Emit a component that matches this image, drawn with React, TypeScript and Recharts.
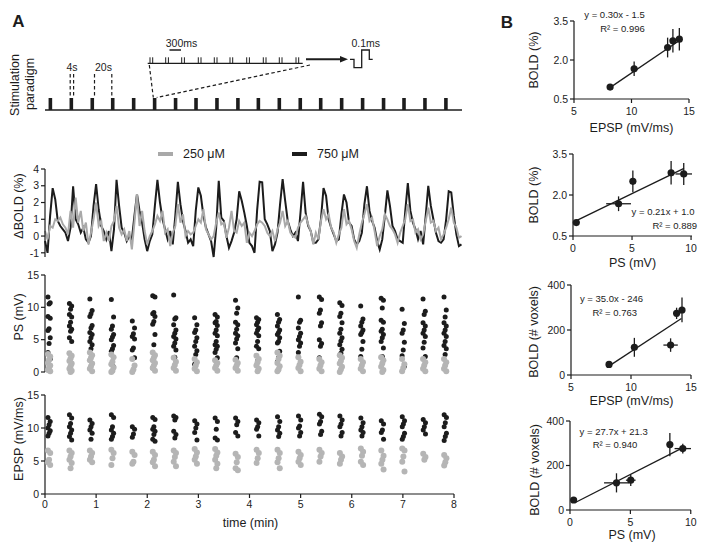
import React from "react";
import {
  ComposedChart,
  LineChart,
  Line,
  Bar,
  ScatterChart,
  Scatter,
  XAxis,
  YAxis,
  ReferenceLine,
  ErrorBar,
  Legend,
} from "recharts";

const FONT = '"Liberation Sans", Arial, Helvetica, sans-serif';
const INK = "#1c1c1c";
const GREY = "#b5b5b5";
const LINE_GREY = "#a9a9a9";

// ---- panel A: stimulation paradigm (onset of each 4 s train, min)
const stimOnsets = [
  0.08, 0.49, 0.9, 1.3, 1.71, 2.12, 2.53, 2.93, 3.34, 3.75,
  4.15, 4.56, 4.97, 5.37, 5.78, 6.19, 6.6, 7.0, 7.41, 7.82,
];
const stimDur = 4 / 60;
// pulse pairs in the zoomed 300 ms train (schematic)
const trainPairs = [150, 165.7, 181.7, 198.3, 214.3, 230, 246.7, 263.3, 279.3, 296];

// ---- panel A: BOLD time courses, one sample every 3 s
const boldStep = 0.05;
const bold750 = [
  -0.3, -1.0, 1.2,
  2.86, 2.2, 0.9, 0.6, 0.4, 0.2, -0.3, 0.5,
  2.97, 1.0, 0.7, 0.2, 0.5, -0.2, -0.4, 0.0, 1.8,
  3.1, 1.6, 0.6, 0.3, -0.2, 0.3, -0.9, 0.4,
  3.35, 1.8, 0.5, 0.2, -0.3, 0.0, -0.2, 1.2,
  2.5, 1.5, 0.8, -0.2, -0.9, -0.3, 0.1, 1.8,
  3.35, 2.0, 1.0, 0.4, -0.2, 0.3, -0.5, 1.2,
  3.24, 1.9, 0.9, 0.3, -0.4, -0.2, -0.6, 1.5,
  2.9, 2.4, 1.2, 0.5, 0.1, -0.3, -1.25, 0.5,
  3.3, 1.1, 0.9, 0.0, -0.7, -0.3, 0.2, 1.0,
  2.67, 2.1, 1.4, 0.6, -0.4, -0.6, -1.0, 1.5,
  3.24, 3.2, 1.0, 0.7, 0.3, -0.9, -0.5, 0.2, 1.9,
  3.4, 2.1, 0.9, 0.4, 0.0, 0.2, -0.3, 1.4,
  3.24, 1.4, 0.6, 0.3, -0.4, -0.4, -0.2, 1.0,
  2.86, 2.4, 1.0, 0.5, 0.1, -0.3, -0.2, 1.3,
  2.48, 2.0, 0.8, 0.6, -0.2, -0.5, -0.3, 0.2, 1.9,
  2.97, 1.5, 0.9, 0.5, -0.3, -0.8, -0.2, 1.2,
  2.72, 1.8, 0.6, 0.3, -0.2, -0.3, -0.4, 1.5,
  3.16, 1.5, 0.8, 0.4, -0.2, 0.3, -0.5, 1.2,
  3.0, 1.8, 1.0, 0.2, -0.3, -0.4, -0.2, 1.0,
  2.67, 2.6, 1.2, 0.1, -0.6, -0.5,
];
const bold250 = [
  0.3, -0.2, 0.6,
  0.5, 1.0, 0.9, 1.1, 0.7, 0.5, 0.1, 1.5,
  0.5, 2.3, 0.8, 1.5, 0.3, 0.8, -0.5, 0.2, 1.0,
  2.0, 0.6, 0.9, -0.3, 0.2, -0.3, 0.6, 0.9,
  1.8, 0.5, 0.1, 0.4, -0.3, 0.3, -0.8, 0.8,
  2.5, 0.6, 1.5, 0.3, -0.5, 0.0, 0.3, 0.7,
  1.2, 0.9, 1.5, 0.2, 0.4, -0.6, 0.2, 0.6,
  1.9, 0.8, 1.3, 0.0, 0.3, 0.1, 0.2, 0.6,
  1.0, 0.8, 1.6, 0.4, 0.1, -0.2, 0.0, 0.8,
  1.4, 0.7, 0.8, -0.1, 0.5, 1.5, 0.3, 0.2,
  0.9, 0.6, 0.8, -0.4, 0.2, 0.0, 0.3, 0.7,
  0.9, 0.8, 0.6, 0.2, 0.0, 0.3, -0.3, 0.4, 0.8,
  1.5, 0.6, 0.9, 0.2, 0.0, -0.1, 0.5, 0.8,
  1.0, 1.2, 0.7, 0.3, -0.5, 0.2, -0.2, 0.9,
  1.6, 1.0, 1.3, 0.5, 0.2, -0.4, 0.1, 0.5,
  1.6, 0.7, 0.9, 0.4, -0.3, -0.7, 0.1, 0.8, 1.3,
  1.9, 0.9, 1.1, 0.3, -0.6, 0.0, 0.4, 1.3,
  1.0, 0.6, 0.4, 0.1, -0.4, 0.2, 0.6, 1.0,
  1.9, 0.9, 1.0, 0.2, 0.4, -0.2, 0.1, 0.9,
  1.7, 0.8, 0.9, 0.3, 0.5, -0.2, 0.1, 0.5,
  1.0, 1.7, 0.8, 0.5, -0.1, 0.0,
];

// ---- panel A: per-block electrophysiology (one column per stimulation block)
const colTimes = [
  0.08, 0.5, 0.9, 1.32, 1.73, 2.13, 2.54, 2.95, 3.35, 3.75,
  4.16, 4.57, 4.98, 5.39, 5.79, 6.2, 6.6, 7.01, 7.42, 7.83,
];
const ps750 = [
  [11.6, 10.7, 10.5, 8.6, 8.3, 6.7, 6.4, 5.3, 4.4, 3.0, 2.0],
  [10.6, 10.2, 9.7, 8.9, 8.5, 7.7, 7.1, 6.6, 6.3, 5.3, 4.7],
  [11.3, 9.5, 9.0, 8.6, 7.2, 6.8, 6.1, 5.8, 5.3, 4.7, 4.2, 3.6],
  [11.2, 8.5, 7.1, 6.6, 5.8, 5.4, 5.0, 4.1, 3.6, 3.2, 0.8],
  [7.9, 6.8, 5.9, 5.5, 5.1, 3.7, 3.4, 2.2],
  [11.8, 11.6, 9.2, 9.0, 8.6, 7.8, 7.4, 5.8, 4.2, 0.6],
  [11.9, 8.4, 8.2, 7.3, 6.5, 6.0, 5.5, 5.1, 4.5, 4.0, 3.4, 2.3],
  [8.4, 7.3, 6.5, 6.1, 5.3, 4.7, 4.0, 3.3, 2.7, 1.2],
  [8.9, 8.5, 7.8, 7.6, 7.2, 6.5, 6.0, 5.6, 4.7, 4.2, 4.0, 3.5, 3.0, 2.2],
  [11.1, 9.9, 9.1, 7.7, 7.3, 6.6, 6.0, 5.6, 5.1, 4.5, 3.6, 2.2],
  [8.4, 8.1, 7.7, 7.3, 6.8, 6.5, 6.0, 5.6, 4.7, 4.0, 3.6, 1.7],
  [8.9, 8.1, 7.7, 7.1, 6.5, 6.1, 5.8, 5.3, 4.7, 4.5, 3.2, 2.2, 1.6],
  [11.6, 8.0, 7.7, 6.8, 6.0, 5.5, 5.0, 4.5, 4.0, 3.0],
  [11.6, 11.2, 9.6, 9.1, 7.6, 7.1, 5.0, 4.4, 4.0, 2.2],
  [10.7, 10.3, 9.1, 8.6, 7.6, 6.6, 6.0, 5.3, 4.8, 4.2, 3.5, 2.9],
  [10.2, 8.2, 7.7, 7.1, 6.5, 6.1, 5.8, 4.7, 3.5, 2.4],
  [11.4, 11.1, 9.9, 8.0, 7.7, 6.6, 6.3, 5.8, 5.3, 4.7, 3.7, 2.4],
  [9.7, 7.5, 6.5, 6.0, 4.6, 3.4, 2.5, 0.9],
  [11.3, 9.4, 8.9, 7.6, 7.1, 6.5, 6.0, 5.5, 4.6, 3.7, 2.4],
  [11.6, 9.6, 8.5, 7.6, 7.1, 6.5, 6.0, 5.5, 4.7, 4.1, 3.6, 2.7],
];
const ps250 = [
  [2.8, 2.4, 1.9, 1.4, 1.0, 0.7, 0.3, 0.1],
  [2.9, 2.5, 2.1, 1.7, 1.3, 0.9, 0.5, 0.2, 0.0],
  [3.0, 2.6, 2.2, 1.8, 1.3, 0.9, 0.5, 0.1],
  [2.7, 2.3, 1.6, 1.2, 0.7, 0.2, 0.0],
  [2.0, 1.0, 0.4, 0.0],
  [3.0, 2.6, 2.2, 1.8, 1.4, 1.0, 0.6, 0.2],
  [2.2, 1.6, 1.1, 0.6, 0.2],
  [2.0, 1.5, 1.0, 0.5, 0.1],
  [1.8, 1.4, 1.0, 0.6, 0.2],
  [1.9, 1.4, 1.0, 0.6, 0.2],
  [2.5, 2.0, 1.5, 1.0, 0.5, 0.1],
  [3.0, 2.5, 2.0, 1.4, 0.9, 0.4, 0.1],
  [2.3, 1.6, 1.1, 0.6, 0.1],
  [2.0, 1.5, 1.0, 0.5, 0.1],
  [2.6, 2.2, 1.7, 1.3, 0.8, 0.4, 0.0],
  [2.0, 1.5, 1.0, 0.5, 0.1],
  [2.3, 1.8, 1.3, 0.8, 0.3, 0.0],
  [2.0, 1.2, 0.6, 0.1],
  [2.0, 1.5, 1.0, 0.5, 0.1],
  [2.0, 1.5, 1.0, 0.5, 0.1],
];
const epsp750 = [
  [11.6, 11.0, 10.5, 10.0, 9.6, 9.2, 8.8],
  [12.0, 11.5, 10.7, 10.2, 9.7, 9.2, 8.7, 8.2],
  [11.2, 10.7, 10.2, 9.7, 9.2, 8.3],
  [12.0, 11.6, 10.2, 9.7, 9.2, 8.7, 8.3],
  [10.2, 9.8, 9.1, 8.6],
  [11.6, 11.3, 10.2, 9.8, 9.5, 9.0, 8.3, 8.0],
  [11.8, 11.6, 11.2, 9.5, 9.0, 8.5],
  [11.1, 10.6, 10.0, 9.3, 8.2],
  [11.5, 11.0, 9.8, 8.5, 8.2],
  [11.5, 11.0, 10.5, 9.3, 8.8],
  [11.2, 10.8, 10.2, 9.8, 8.8],
  [11.7, 11.0, 10.2, 9.7, 9.2, 8.7],
  [11.8, 11.2, 10.3, 10.0, 9.3, 8.8],
  [12.1, 11.7, 11.0, 10.6, 9.5, 9.0],
  [11.8, 11.2, 10.6, 10.2, 9.3, 8.8],
  [11.5, 10.8, 10.2, 9.7, 9.3, 8.8],
  [11.1, 10.6, 9.7, 9.3, 8.3],
  [11.7, 11.1, 10.6, 10.2, 9.2, 8.7, 8.3],
  [11.3, 10.8, 10.2, 9.7, 9.1],
  [12.0, 11.6, 10.8, 10.2, 9.2, 8.7, 8.1],
];
const epsp250 = [
  [6.6, 6.2, 5.2, 4.8, 4.4],
  [6.6, 6.2, 5.7, 5.2, 4.7, 3.9],
  [6.6, 6.2, 5.7, 5.2, 4.8],
  [6.7, 6.2, 5.4, 4.4],
  [6.4, 5.9, 4.9, 4.6],
  [6.4, 5.9, 5.2, 4.8, 4.2],
  [6.6, 6.2, 5.6, 4.9, 4.2],
  [6.8, 6.3, 5.7, 5.2, 4.6],
  [6.8, 6.3, 5.8, 5.2, 4.6, 3.9],
  [6.1, 5.6, 4.8, 3.9, 3.6],
  [6.7, 6.2, 5.4, 4.7],
  [6.7, 6.2, 5.4, 4.8, 3.9],
  [6.4, 5.9, 5.4, 4.9, 4.4],
  [6.7, 6.2, 5.7, 4.9],
  [6.2, 5.7, 5.2, 4.6],
  [6.9, 6.4, 5.8, 4.9, 4.4],
  [6.6, 5.8, 5.2, 4.6, 3.7],
  [6.9, 6.6, 5.7, 4.9, 3.4],
  [6.1, 5.6, 5.2],
  [5.9, 5.4, 4.8, 4.3],
];

// ---- panel B: block means with SEM (x = EPSP or PS, y = BOLD)
const epspBoldPct = [
  { x: 8.14, y: 0.96, ex: 0.1, ey: 0.1 },
  { x: 10.23, y: 1.66, ex: 0.15, ey: 0.28 },
  { x: 13.14, y: 2.48, ex: 0.15, ey: 0.38 },
  { x: 13.6, y: 2.74, ex: 0.1, ey: 0.45 },
  { x: 14.16, y: 2.8, ex: 0.2, ey: 0.43 },
];
const psBoldPct = [
  { x: 0.28, y: 0.99, ex: 0.15, ey: 0.1 },
  { x: 3.86, y: 1.68, ex: 1.05, ey: 0.27 },
  { x: 5.07, y: 2.5, ex: 0.1, ey: 0.4 },
  { x: 8.31, y: 2.81, ex: 0.2, ey: 0.43 },
  { x: 9.38, y: 2.77, ex: 0.7, ey: 0.4 },
];
const epspVoxels = [
  { x: 8.17, y: 47, ex: 0.1, ey: 8 },
  { x: 10.28, y: 123, ex: 0.15, ey: 42 },
  { x: 13.3, y: 133, ex: 0.6, ey: 30 },
  { x: 13.8, y: 274, ex: 0.15, ey: 25 },
  { x: 14.25, y: 289, ex: 0.15, ey: 55 },
];
const psVoxels = [
  { x: 0.3, y: 45, ex: 0.15, ey: 8 },
  { x: 3.85, y: 122, ex: 1.03, ey: 43 },
  { x: 5.03, y: 134, ex: 0.4, ey: 26 },
  { x: 8.27, y: 294, ex: 0.15, ey: 52 },
  { x: 9.34, y: 276, ex: 0.68, ey: 22 },
];
// linear fits as printed on the figure
const fits = {
  epspBoldPct: { slope: 0.3, icpt: -1.5, from: 8.0, to: 14.2, eq: "y = 0.30x - 1.5", r2: "R² = 0.996" },
  psBoldPct: { slope: 0.21, icpt: 1.0, from: 0.2, to: 9.4, eq: "y = 0.21x + 1.0", r2: "R² = 0.889" },
  epspVoxels: { slope: 35.0, icpt: -246, from: 8.0, to: 14.2, eq: "y = 35.0x - 246", r2: "R² = 0.763" },
  psVoxels: { slope: 27.7, icpt: 21.3, from: 0.4, to: 9.4, eq: "y = 27.7x + 21.3", r2: "R² = 0.940" },
};

const boldData = bold750.map((v, i) => ({ t: i * boldStep, hi: v, lo: bold250[i] }));
const stimBars = stimOnsets.map((t) => ({ t: t + stimDur / 2, on: 1 }));
const jitter = [-0.022, 0.022, 0];
const toPoints = (cols: number[][]) =>
  cols.flatMap((ys, c) => ys.map((v, i) => ({ t: colTimes[c] + jitter[i % 3], v })));

const axisStroke = { stroke: INK, strokeWidth: 1.2 };
const tickFont = { fontSize: 10.5, fill: INK, fontFamily: FONT };

const dot = (r: number, fill: string) => (p: any) =>
  <circle cx={p.cx} cy={p.cy} r={r} fill={fill} />;

function Txt({ x, y, children, size = 12.5, rot = false, bold = false }: any) {
  return (
    <div
      style={{
        position: "absolute",
        left: x,
        top: y,
        transform: `translate(-50%, -50%)${rot ? " rotate(-90deg)" : ""}`,
        fontSize: size,
        fontWeight: bold ? 700 : 400,
        whiteSpace: "nowrap",
        lineHeight: 1,
        color: INK,
        fontFamily: FONT,
      }}
    >
      {children}
    </div>
  );
}

function Schematic() {
  const dash = { stroke: INK, strokeWidth: 1.2, strokeDasharray: "3.5 2.5" };
  const t = { fontSize: 10.5, fill: INK, fontFamily: FONT, textAnchor: "middle" as const };
  return (
    <svg width={470} height={100} style={{ position: "absolute", left: 0, top: 0 }}>
      <text x={72} y={71} {...t}>4s</text>
      <line x1={70.2} y1={74} x2={70.2} y2={97} {...dash} />
      <line x1={73.6} y1={74} x2={73.6} y2={97} {...dash} />
      <text x={103.5} y={71} {...t}>20s</text>
      <line x1={94.5} y1={74} x2={94.5} y2={97} {...dash} />
      <line x1={111.8} y1={74} x2={111.8} y2={97} {...dash} />
      <text x={181.5} y={47} {...t}>300ms</text>
      <line x1={169.5} y1={50} x2={181} y2={50} stroke={INK} strokeWidth={1.5} />
      <line x1={147.7} y1={63.3} x2={302.7} y2={63.3} stroke={INK} strokeWidth={1.2} />
      {trainPairs.map((x) => (
        <g key={x}>
          <line x1={x} y1={57.3} x2={x} y2={63.3} stroke={INK} strokeWidth={1} />
          <line x1={x + 2.7} y1={57.3} x2={x + 2.7} y2={63.3} stroke={INK} strokeWidth={1} />
        </g>
      ))}
      <line x1={306} y1={59.3} x2={342} y2={59.3} stroke={INK} strokeWidth={2} />
      <polygon points="348,59.3 340,56 340,62.6" fill={INK} />
      <polyline
        points="350,59.3 354,59.3 354,67.7 361.7,67.7 361.7,50 369.3,50 369.3,59.3 372.7,59.3"
        fill="none"
        stroke={INK}
        strokeWidth={1.3}
      />
      <text x={365.7} y={47} {...t}>0.1ms</text>
      <line x1={149.3} y1={65} x2={153.3} y2={97.5} {...dash} />
      <line x1={310} y1={65} x2={156.7} y2={97.5} {...dash} />
    </svg>
  );
}

function BoldLegend() {
  const items = [
    { label: "250 μM", color: LINE_GREY },
    { label: "750 μM", color: INK },
  ];
  return (
    <div style={{ display: "flex", fontFamily: FONT, fontSize: 12.5, color: INK }}>
      {items.map((it) => (
        <div key={it.label} style={{ display: "flex", alignItems: "center", width: 134 }}>
          <span style={{ display: "inline-block", width: 15, height: 4, background: it.color, marginRight: 10 }} />
          {it.label}
        </div>
      ))}
    </div>
  );
}

function FitPanel({ plotTop, yw, pw, ph, data, fit, xDomain, xTicks, yDomain, yTicks, fmt }: any) {
  return (
    <div style={{ position: "absolute", left: 500, top: plotTop - 10 }}>
      <ScatterChart width={yw + pw + 10} height={10 + ph + 24} margin={{ top: 10, right: 10, bottom: 0, left: 0 }}>
        <XAxis
          type="number"
          dataKey="x"
          domain={xDomain}
          ticks={xTicks}
          interval={0}
          height={24}
          axisLine={axisStroke}
          tickLine={axisStroke}
          tickSize={4}
          tickMargin={5}
          tick={tickFont}
        />
        <YAxis
          type="number"
          dataKey="y"
          domain={yDomain}
          ticks={yTicks}
          interval={0}
          width={yw}
          axisLine={axisStroke}
          tickLine={axisStroke}
          tickSize={4}
          tick={tickFont}
          tickFormatter={fmt}
        />
        <ReferenceLine
          segment={[
            { x: fit.from, y: fit.slope * fit.from + fit.icpt },
            { x: fit.to, y: fit.slope * fit.to + fit.icpt },
          ]}
          stroke={INK}
          strokeWidth={1.3}
          ifOverflow="visible"
        />
        <Scatter data={data} shape={dot(3.6, INK)} isAnimationActive={false}>
          <ErrorBar dataKey="ey" direction="y" width={0} stroke={INK} strokeWidth={1.3} />
          <ErrorBar dataKey="ex" direction="x" width={0} stroke={INK} strokeWidth={1.3} />
        </Scatter>
      </ScatterChart>
    </div>
  );
}

export default function App() {
  const oneDec = (v: number) => v.toFixed(1);
  return (
    <div
      style={{
        position: "absolute",
        left: 0,
        top: 0,
        width: 707,
        height: 555,
        background: "#fff",
        fontFamily: FONT,
        overflow: "hidden",
      }}
    >
      <Txt x={18.5} y={20.5} size={17} bold>A</Txt>
      <Txt x={507} y={22} size={17} bold>B</Txt>

      {/* stimulation paradigm */}
      <div style={{ position: "absolute", left: 0, top: 90 }}>
        <ComposedChart width={462} height={22} data={stimBars} margin={{ top: 8, right: 0, bottom: 0, left: 45 }}>
          <XAxis
            type="number"
            dataKey="t"
            domain={[0, 8.16]}
            height={2}
            tick={false}
            tickLine={false}
            axisLine={{ stroke: INK, strokeWidth: 1.5 }}
          />
          <YAxis type="number" domain={[0, 1]} hide />
          <Bar dataKey="on" fill={INK} barSize={3.6} isAnimationActive={false} />
        </ComposedChart>
      </div>
      <Schematic />
      <Txt x={15} y={85} rot>Stimulation</Txt>
      <Txt x={29.5} y={84} rot>paradigm</Txt>

      {/* BOLD time courses */}
      <div style={{ position: "absolute", left: 0, top: 130 }}>
        <LineChart width={462} height={134} data={boldData} margin={{ top: 39, right: 0, bottom: 7, left: 0 }}>
          <XAxis type="number" dataKey="t" domain={[0, 8.16]} hide />
          <YAxis
            type="number"
            domain={[-1, 4]}
            ticks={[-1, 0, 1, 2, 3, 4]}
            interval={0}
            width={45}
            axisLine={axisStroke}
            tickLine={axisStroke}
            tickSize={4}
            tick={tickFont}
          />
          <Legend
            layout="horizontal"
            verticalAlign="middle"
            align="center"
            wrapperStyle={{ left: 158, top: 17, width: 270 }}
            content={() => <BoldLegend />}
          />
          <Line dataKey="hi" name="750 μM" stroke={INK} strokeWidth={2} dot={false} isAnimationActive={false} />
          <Line dataKey="lo" name="250 μM" stroke={LINE_GREY} strokeWidth={2} dot={false} isAnimationActive={false} />
        </LineChart>
      </div>
      <Txt x={19} y={206} rot>ΔBOLD (%)</Txt>

      {/* PS amplitudes */}
      <div style={{ position: "absolute", left: 0, top: 265 }}>
        <ScatterChart width={462} height={116} margin={{ top: 10, right: 0, bottom: 9, left: 0 }}>
          <XAxis type="number" dataKey="t" domain={[0, 8.16]} hide />
          <YAxis
            type="number"
            dataKey="v"
            domain={[0, 15]}
            ticks={[0, 5, 10, 15]}
            interval={0}
            width={45}
            axisLine={axisStroke}
            tickLine={axisStroke}
            tickSize={4}
            tick={tickFont}
          />
          <Scatter data={toPoints(ps750)} shape={dot(2.5, INK)} isAnimationActive={false} />
          <Scatter data={toPoints(ps250)} shape={dot(3, GREY)} isAnimationActive={false} />
        </ScatterChart>
      </div>
      <Txt x={18.5} y={317} rot>PS (mV)</Txt>

      {/* EPSP slopes */}
      <div style={{ position: "absolute", left: 0, top: 385 }}>
        <ScatterChart width={462} height={149} margin={{ top: 10, right: 8, bottom: 0, left: 0 }}>
          <XAxis
            type="number"
            dataKey="t"
            domain={[0, 8]}
            ticks={[0, 1, 2, 3, 4, 5, 6, 7, 8]}
            interval={0}
            height={40}
            axisLine={axisStroke}
            tickLine={axisStroke}
            tickSize={4}
            tickMargin={3}
            tick={tickFont}
          />
          <YAxis
            type="number"
            dataKey="v"
            domain={[0, 15]}
            ticks={[0, 5, 10, 15]}
            interval={0}
            width={45}
            axisLine={axisStroke}
            tickLine={axisStroke}
            tickSize={4}
            tick={tickFont}
          />
          <Scatter data={toPoints(epsp750)} shape={dot(2.5, INK)} isAnimationActive={false} />
          <Scatter data={toPoints(epsp250)} shape={dot(3, GREY)} isAnimationActive={false} />
        </ScatterChart>
      </div>
      <Txt x={18.5} y={439} rot>EPSP (mV/ms)</Txt>
      <Txt x={250.5} y={522.7}>time (min)</Txt>

      {/* panel B */}
      <FitPanel plotTop={21} yw={74} pw={115} ph={78} data={epspBoldPct} fit={fits.epspBoldPct}
        xDomain={[5, 15]} xTicks={[5, 10, 15]} yDomain={[0.5, 3.5]} yTicks={[0.5, 2.0, 3.5]} fmt={oneDec} />
      <Txt x={614.5} y={15} size={9.5}>{fits.epspBoldPct.eq}</Txt>
      <Txt x={622.5} y={28.5} size={9.5}>{fits.epspBoldPct.r2}</Txt>
      <Txt x={534} y={60} rot>BOLD (%)</Txt>
      <Txt x={631.5} y={128}>EPSP (mV/ms)</Txt>

      <FitPanel plotTop={154} yw={73} pw={119} ph={82} data={psBoldPct} fit={fits.psBoldPct}
        xDomain={[0, 10]} xTicks={[0, 5, 10]} yDomain={[0.5, 3.5]} yTicks={[0.5, 2.0, 3.5]} fmt={oneDec} />
      <Txt x={663} y={212.3} size={9.5}>{fits.psBoldPct.eq}</Txt>
      <Txt x={674.7} y={225.7} size={9.5}>{fits.psBoldPct.r2}</Txt>
      <Txt x={534} y={195} rot>BOLD (%)</Txt>
      <Txt x={632.5} y={263}>PS (mV)</Txt>

      <FitPanel plotTop={285} yw={71} pw={120} ph={90} data={epspVoxels} fit={fits.epspVoxels}
        xDomain={[5, 15]} xTicks={[5, 10, 15]} yDomain={[0, 400]} yTicks={[0, 200, 400]} />
      <Txt x={611.5} y={299} size={9.5}>{fits.epspVoxels.eq}</Txt>
      <Txt x={614.7} y={313.3} size={9.5}>{fits.epspVoxels.r2}</Txt>
      <Txt x={534} y={331.7} rot>BOLD (# voxels)</Txt>
      <Txt x={631.5} y={401}>EPSP (mV/ms)</Txt>

      <FitPanel plotTop={421} yw={70} pw={121} ph={89} data={psVoxels} fit={fits.psVoxels}
        xDomain={[0, 10]} xTicks={[0, 5, 10]} yDomain={[0, 400]} yTicks={[0, 200, 400]} />
      <Txt x={613.7} y={431.7} size={9.5}>{fits.psVoxels.eq}</Txt>
      <Txt x={615} y={445.3} size={9.5}>{fits.psVoxels.r2}</Txt>
      <Txt x={535} y={470} rot>BOLD (# voxels)</Txt>
      <Txt x={632} y={535}>PS (mV)</Txt>
    </div>
  );
}
